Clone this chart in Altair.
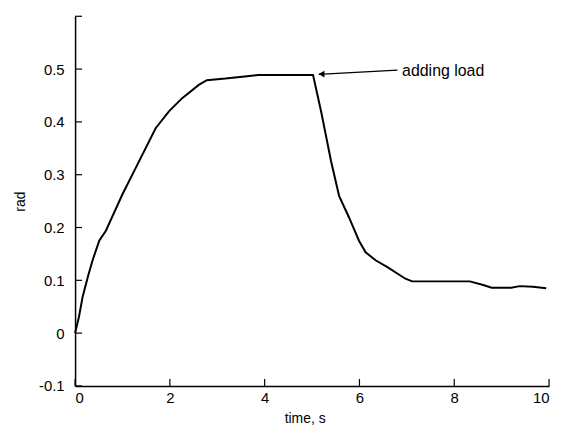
import altair as alt
import pandas as pd

# response curve (time in s, angle in rad)
time_s = [0, 0.08, 0.16, 0.28, 0.37, 0.51, 0.65, 1.0, 1.28, 1.70, 1.98, 2.26, 2.61, 2.78,
          3.17, 3.58, 3.86, 5.02, 5.19, 5.40, 5.57, 5.78, 5.99, 6.13, 6.34, 6.59, 6.97,
          7.11, 8.33, 8.61, 8.79, 9.20, 9.38, 9.66, 9.94]
rad = [0, 0.03, 0.069, 0.11, 0.138, 0.175, 0.194, 0.263, 0.313, 0.388, 0.42, 0.445, 0.47, 0.479,
       0.482, 0.486, 0.489, 0.489, 0.42, 0.326, 0.26, 0.219, 0.175, 0.153, 0.138, 0.125, 0.103,
       0.098, 0.098, 0.091, 0.086, 0.086, 0.089, 0.088, 0.085]

x_ticks = [0, 2, 4, 6, 8, 10]
y_ticks = [-0.1, 0, 0.1, 0.2, 0.3, 0.4, 0.5]
y_tick_marks = [-0.1, 0, 0.1, 0.2, 0.3, 0.4, 0.5, 0.6]

# annotation
ann_text = ["adding load"]
ann_text_x = [6.9]
ann_text_y = [0.497]
arrow_x = [6.8]
arrow_y = [0.498]
arrow_x2 = [5.14]
arrow_y2 = [0.490]
head_x = [5.2]
head_y = [0.4905]

W, H = 477, 372
FONT = "Liberation Sans"

xs = alt.Scale(domain=[0, 10], nice=False, zero=False)
ys = alt.Scale(domain=[-0.1, 0.6], nice=False, zero=False)

x_axis = alt.Axis(
    title="time, s", values=x_ticks, labelPadding=5, titleX=231, titleY=33,
    titleAlign="center", titleBaseline="middle", titleFontSize=14)
y_axis = alt.Axis(
    title="rad", values=y_ticks, labelPadding=11,
    labelExpr="datum.value < -0.001 ? '-' + format(-datum.value, '.1f') : (abs(datum.value) < 0.001 ? '0' : format(datum.value, '.1f'))",
    titleX=-55, titleY=186, titleAngle=270, titleAlign="center",
    titleBaseline="middle", titleFontSize=14)

curve_df = pd.DataFrame({"t": time_s, "v": rad})
line = alt.Chart(curve_df).mark_line(color="black", strokeWidth=2).encode(
    x=alt.X("t:Q", scale=xs, axis=x_axis, title="time, s"),
    y=alt.Y("v:Q", scale=ys, axis=y_axis, title="rad"),
    order=alt.Order("t:Q"),
)

xt = alt.Chart(pd.DataFrame({"t": x_ticks})).mark_rule(color="black", strokeWidth=1.2).encode(
    x=alt.X("t:Q", scale=xs, title="time, s"),
    y=alt.value(H), y2=alt.value(H - 7),
)
yt = alt.Chart(pd.DataFrame({"v": y_tick_marks})).mark_rule(color="black", strokeWidth=1.2).encode(
    y=alt.Y("v:Q", scale=ys, title="rad"),
    x=alt.value(0), x2=alt.value(7),
)

arrow = alt.Chart(pd.DataFrame({"t": arrow_x, "v": arrow_y, "t2": arrow_x2, "v2": arrow_y2})).mark_rule(
    color="black", strokeWidth=1.2).encode(
    x=alt.X("t:Q", scale=xs, title="time, s"), y=alt.Y("v:Q", scale=ys, title="rad"),
    x2="t2:Q", y2="v2:Q",
)
head = alt.Chart(pd.DataFrame({"t": head_x, "v": head_y})).mark_point(
    shape="triangle-left", filled=True, color="black", size=45, opacity=1).encode(
    x=alt.X("t:Q", scale=xs, title="time, s"), y=alt.Y("v:Q", scale=ys, title="rad"),
)
label = alt.Chart(pd.DataFrame({"t": ann_text_x, "v": ann_text_y, "txt": ann_text})).mark_text(
    align="left", baseline="middle", font=FONT, fontSize=16, color="black").encode(
    x=alt.X("t:Q", scale=xs, title="time, s"), y=alt.Y("v:Q", scale=ys, title="rad"),
    text="txt:N",
)

chart = alt.layer(line, xt, yt, arrow, head, label).properties(
    width=W, height=H,
    padding={"left": 67.5, "top": 7, "right": 8, "bottom": 40},
    autosize=alt.AutoSizeParams(type="none"),
).configure_view(stroke=None).configure_axis(
    grid=False, ticks=False, tickSize=0, domainColor="black", domainWidth=1.5,
    labelFont=FONT, labelFontSize=15, labelColor="black",
    titleFont=FONT, titleColor="black", titleFontWeight="normal",
)

chart.save("out.html", embed_options={"renderer": "svg", "actions": False})
